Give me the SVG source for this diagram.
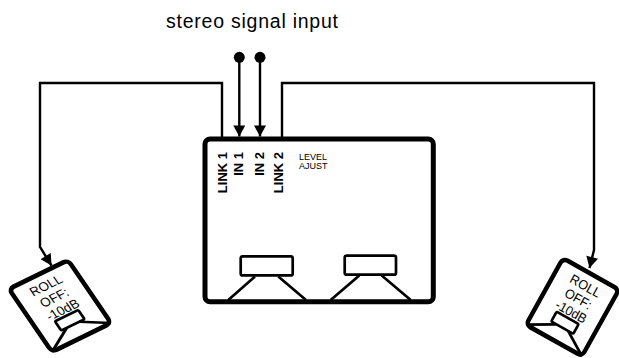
<svg xmlns="http://www.w3.org/2000/svg" width="619" height="358" viewBox="0 0 619 358">
<defs>
<style>
.ln{fill:none;stroke:#000;stroke-width:2.4}
.box{fill:#fff;stroke:#000;stroke-width:5;stroke-linejoin:round}
.sbox{fill:#fff;stroke:#000;stroke-width:4.6;stroke-linejoin:round}
.spk{fill:#fff;stroke:#000;stroke-width:2.7}
.cone{fill:none;stroke:#000;stroke-width:2.7}
.lbl{font-family:"Liberation Sans",Arial,sans-serif;font-weight:bold;font-size:13px;fill:#000}
.sm{font-family:"Liberation Sans",Arial,sans-serif;font-size:9px;fill:#000}
.ro{font-family:"Liberation Sans",Arial,sans-serif;font-size:13px;fill:#000;text-anchor:middle}
.title{font-family:"Liberation Sans",Arial,sans-serif;font-size:19.5px;fill:#000}
</style>
<marker id="ah" markerWidth="13" markerHeight="12" refX="12" refY="6.5" orient="auto" markerUnits="userSpaceOnUse" viewBox="0 0 12 13">
<path d="M0,0 L12,6.5 L0,13 Z" fill="#000"/>
</marker>
</defs>
<rect width="619" height="358" fill="#fff"/>
<text class="title" x="166" y="28" textLength="172" lengthAdjust="spacing">stereo signal input</text>
<g id="connectors">
<path class="ln" d="M222,139 V83 H40 V247 L51.5,265.5" marker-end="url(#ah)"/>
<path class="ln" d="M282,139 V83 H594 V250 L589.5,268" marker-end="url(#ah)"/>
<path class="ln" d="M239.3,57 V136.5" marker-end="url(#ah)"/>
<path class="ln" d="M260,57 V136.5" marker-end="url(#ah)"/>
<circle cx="239.3" cy="57.3" r="5.5" fill="#000"/>
<circle cx="260" cy="57.3" r="5.5" fill="#000"/>
</g>
<g id="main-box">
<rect class="box" x="205" y="139" width="228.3" height="162.7" rx="5"/>
<text class="lbl" transform="translate(226.5,152) rotate(-90)" text-anchor="end">LINK 1</text>
<text class="lbl" transform="translate(243.3,152) rotate(-90)" text-anchor="end">IN 1</text>
<text class="lbl" transform="translate(264,152) rotate(-90)" text-anchor="end">IN 2</text>
<text class="lbl" transform="translate(283,152) rotate(-90)" text-anchor="end">LINK 2</text>
<text class="sm" x="299" y="160">LEVEL</text>
<text class="sm" x="299" y="169">AJUST</text>
<rect class="spk" x="240.7" y="256.4" width="52" height="19" rx="2"/>
<path class="cone" d="M255,276.5 L228.3,300 M278.3,276.5 L306,300"/>
<rect class="spk" x="344.7" y="255.7" width="51.3" height="19" rx="2"/>
<path class="cone" d="M359.3,275.5 L330.7,300 M381.7,275.5 L410.7,300"/>
</g>
<g id="left-speaker" transform="matrix(0.894 -0.439 0.573 0.84 60 306)">
<rect class="sbox" x="-33" y="-37.5" width="66" height="75" rx="5"/>
<text class="ro" x="0" y="-20">ROLL</text>
<text class="ro" x="0" y="-5.5">OFF:</text>
<text class="ro" x="0" y="9">-10dB</text>
<rect class="spk" x="-13" y="11.5" width="26" height="11" rx="1.5"/>
<path class="cone" d="M-7,22.5 L-33,37.5 M7,22.5 L33,37.5"/>
</g>
<g id="right-speaker" transform="matrix(0.848 0.477 -0.493 0.887 572.5 307.2)">
<rect class="sbox" x="-33" y="-37.5" width="66" height="75" rx="5"/>
<text class="ro" x="1" y="-20">ROLL</text>
<text class="ro" x="1" y="-5.5">OFF:</text>
<text class="ro" x="1" y="9">-10dB</text>
<rect class="spk" x="-12" y="11.5" width="26" height="11" rx="1.5"/>
<path class="cone" d="M-6,22.5 L-33,37.5 M8,22.5 L33,37.5"/>
</g>
</svg>
